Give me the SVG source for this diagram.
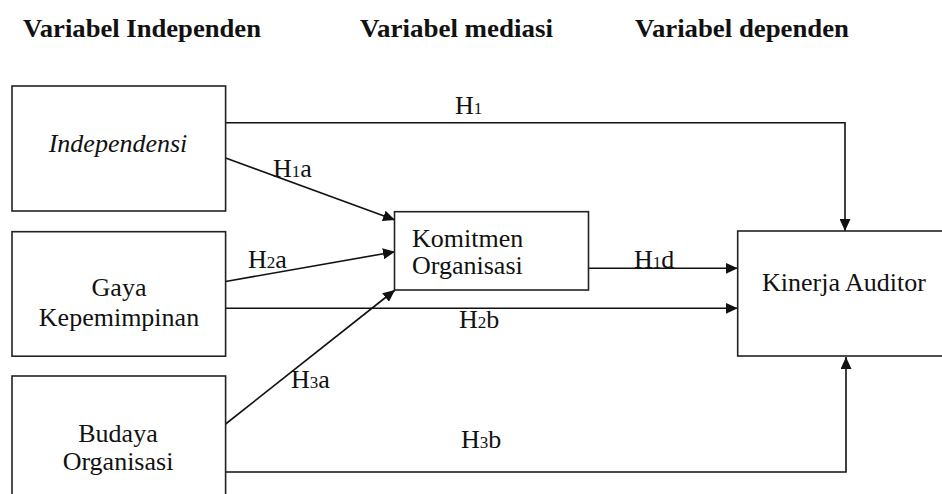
<svg xmlns="http://www.w3.org/2000/svg" width="942" height="494" viewBox="0 0 942 494">
<style>
text{font-family:"Liberation Serif","Times New Roman",serif;fill:#111;font-size:26px}
.hd{font-weight:bold}
.box{fill:#fff;stroke:#222;stroke-width:1.6}
.ln{fill:none;stroke:#111;stroke-width:1.6}
.sub{font-size:17px}
</style>
<defs>
<marker id="ah" markerUnits="userSpaceOnUse" markerWidth="12" markerHeight="11" refX="12" refY="5.5" orient="auto">
<path d="M0,0 L12,5.5 L0,11 z" fill="#111"/>
</marker>
</defs>
<rect width="942" height="494" fill="#fff"/>
<g id="headers">
<text class="hd" x="23" y="37" textLength="238" lengthAdjust="spacingAndGlyphs">Variabel Independen</text>
<text class="hd" x="360" y="37" textLength="193" lengthAdjust="spacingAndGlyphs">Variabel mediasi</text>
<text class="hd" x="635" y="37" textLength="214" lengthAdjust="spacingAndGlyphs">Variabel dependen</text>
</g>
<g id="connectors">
<polyline class="ln" points="225.6,122.7 845,122.7 845,231" marker-end="url(#ah)"/>
<line class="ln" x1="225.6" y1="158" x2="395" y2="220" marker-end="url(#ah)"/>
<line class="ln" x1="225.6" y1="281.5" x2="395" y2="251.7" marker-end="url(#ah)"/>
<line class="ln" x1="225.6" y1="424" x2="395" y2="290" marker-end="url(#ah)"/>
<line class="ln" x1="588.6" y1="268.3" x2="737.7" y2="268.3" marker-end="url(#ah)"/>
<line class="ln" x1="225.6" y1="308.3" x2="737.7" y2="308.3" marker-end="url(#ah)"/>
<polyline class="ln" points="225.6,472 846,472 846,357" marker-end="url(#ah)"/>
<text x="455" y="114">H<tspan class="sub">1</tspan></text>
<text x="273" y="177">H<tspan class="sub">1</tspan>a</text>
<text x="248" y="268">H<tspan class="sub">2</tspan>a</text>
<text x="634" y="268">H<tspan class="sub">1</tspan>d</text>
<text x="459" y="328">H<tspan class="sub">2</tspan>b</text>
<text x="291" y="388">H<tspan class="sub">3</tspan>a</text>
<text x="461" y="448">H<tspan class="sub">3</tspan>b</text>
</g>
<g id="independensi">
<rect class="box" x="12" y="86" width="213.6" height="125"/>
<text x="118" y="152" text-anchor="middle" font-style="italic">Independensi</text>
</g>
<g id="gaya-kepemimpinan">
<rect class="box" x="12" y="231.7" width="213.6" height="124.5"/>
<text x="119" y="296" text-anchor="middle">Gaya</text>
<text x="119" y="326" text-anchor="middle">Kepemimpinan</text>
</g>
<g id="budaya-organisasi">
<rect class="box" x="12" y="376" width="213.6" height="130"/>
<text x="118" y="442" text-anchor="middle">Budaya</text>
<text x="118" y="470" text-anchor="middle">Organisasi</text>
</g>
<g id="komitmen-organisasi">
<rect class="box" x="394.5" y="211.7" width="194" height="78.3"/>
<text x="412" y="247">Komitmen</text>
<text x="412" y="274">Organisasi</text>
</g>
<g id="kinerja-auditor">
<rect class="box" x="737.7" y="231" width="215" height="125"/>
<text x="762" y="291">Kinerja Auditor</text>
</g>
</svg>
